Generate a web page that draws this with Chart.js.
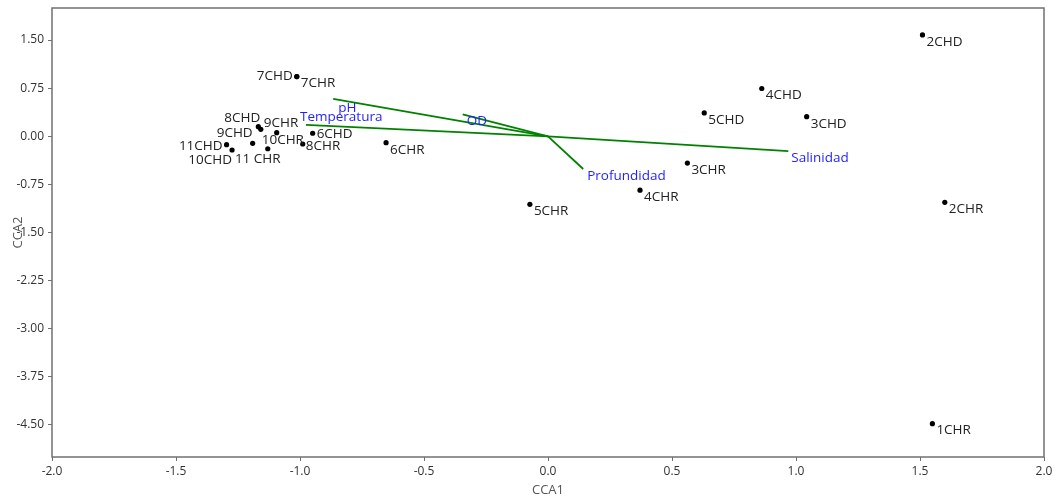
<!DOCTYPE html>
<html>
<head>
<meta charset="utf-8">
<script src="https://cdn.jsdelivr.net/npm/chart.js@4.4.0/dist/chart.umd.min.js"></script>
<style>
  body { margin: 0; background: #fff; }
</style>
</head>
<body>
<canvas id="ccaChart" width="1057" height="500"></canvas>
<script>
// sitios (puntos)
const siteNames = ["2CHD", "2CHR", "1CHR", "4CHD", "5CHD", "3CHD", "3CHR", "4CHR", "5CHR", "6CHR",
  "7CHD", "7CHR", "8CHD", "9CHR", "10CHR", "6CHD", "9CHD", "11CHD", "10CHD", "11 CHR", "8CHR"];
const siteCCA1 = [1.51, 1.60, 1.55, 0.862, 0.630, 1.043, 0.562, 0.371, -0.073, -0.653,
  -1.013, -1.013, -1.168, -1.158, -1.094, -0.949, -1.191, -1.296, -1.274, -1.130, -0.989];
const siteCCA2 = [1.58, -1.03, -4.48, 0.745, 0.364, 0.306, -0.417, -0.84, -1.06, -0.10,
  0.931, 0.931, 0.15, 0.109, 0.056, 0.047, -0.11, -0.131, -0.214, -0.194, -0.12];

// variables ambientales (vectores)
const varNames = ["Salinidad", "Profundidad", "OD", "pH", "Temperatura"];
const varCCA1 = [0.969, 0.142, -0.344, -0.866, -0.976];
const varCCA2 = [-0.23, -0.51, 0.34, 0.583, 0.177];

// marcas de los ejes
const yTicks = [1.5, 0.75, 0, -0.75, -1.5, -2.25, -3, -3.75, -4.5];

// colocación de etiquetas (desplazamiento en px)
const labelPlace = {
  "7CHD": { dx: -4, dy: 0, align: "right" },
  "8CHD": { dx: 2, dy: -9, align: "right" },
  "9CHR": { dx: 3, dy: -6 },
  "9CHD": { dx: 0, dy: -10, align: "right" },
  "10CHR": { dx: -15, dy: 7 },
  "11CHD": { dx: -4, dy: 1, align: "right" },
  "10CHD": { dx: 0, dy: 10, align: "right" },
  "11 CHR": { dx: -10, dy: 10, align: "center" },
  "8CHR": { dx: 3, dy: 2 },
  "6CHD": { dx: 4, dy: 1 },
  "Salinidad": { dx: 3, dy: 7 },
  "Profundidad": { dx: 4, dy: 7 },
  "OD": { dx: 4, dy: 7 },
  "pH": { dx: 5, dy: 9 },
  "Temperatura": { dx: -6, dy: -8 },
};

const FONT = "'Open Sans', 'Noto Sans', sans-serif";

const datasets = [];
varNames.forEach((n, i) => {
  datasets.push({
    label: n,
    data: [{ x: 0, y: 0 }, { x: varCCA1[i], y: varCCA2[i] }],
    showLine: true,
    borderColor: "rgb(0,130,0)",
    borderWidth: 1.8,
    pointRadius: 0,
  });
});
datasets.push({
  label: "sitios",
  data: siteNames.map((n, i) => ({ x: siteCCA1[i], y: siteCCA2[i] })),
  pointRadius: 2.6,
  pointBackgroundColor: "#000",
  pointBorderWidth: 0,
});

// etiquetas, marco y titulos de ejes
const labelPlugin = {
  id: "labels",
  afterDatasetsDraw(chart) {
    const ctx = chart.ctx;
    const xs = chart.scales.x, ys = chart.scales.y;
    ctx.save();
    ctx.font = "13.5px " + FONT;
    ctx.textBaseline = "middle";
    const put = (name, vx, vy, color) => {
      const p = labelPlace[name] || { dx: 4, dy: 7 };
      ctx.fillStyle = color;
      ctx.textAlign = p.align || "left";
      ctx.fillText(name, xs.getPixelForValue(vx) + p.dx, ys.getPixelForValue(vy) + p.dy);
    };
    siteNames.forEach((n, i) => put(n, siteCCA1[i], siteCCA2[i], "#222"));
    varNames.forEach((n, i) => put(n, varCCA1[i], varCCA2[i], "#1f1fff"));

    const a = chart.chartArea;
    ctx.strokeStyle = "#707070";
    ctx.lineWidth = 1.5;
    ctx.strokeRect(a.left, a.top, a.right - a.left, a.bottom - a.top);

    ctx.fillStyle = "#555";
    ctx.font = "13px " + FONT;
    ctx.textAlign = "center";
    ctx.fillText("CCA1", (a.left + a.right) / 2, 490);
    ctx.translate(18, (a.top + a.bottom) / 2);
    ctx.rotate(-Math.PI / 2);
    ctx.fillText("CCA2", 0, 0);
    ctx.restore();
  },
};

const ccaConfig = {
  type: "scatter",
  data: { datasets: datasets },
  options: {
    responsive: false,
    animation: false,
    layout: { padding: { top: 8, right: 13, left: 0, bottom: 0 } },
    plugins: { legend: { display: false }, tooltip: { enabled: false } },
    scales: {
      x: {
        min: -2, max: 2,
        ticks: {
          stepSize: 0.5, padding: 3, color: "#333",
          font: { size: 12, family: FONT },
          callback: (v) => Number(v).toFixed(1),
        },
        grid: { drawOnChartArea: false, tickLength: 4, color: "#707070", lineWidth: 1 },
        border: { display: false },
        afterFit: (s) => { s.height = 43; s.paddingLeft = 0; s.paddingRight = 0; },
      },
      y: {
        min: -5, max: 2,
        afterBuildTicks: (s) => { s.ticks = yTicks.map((v) => ({ value: v })); },
        ticks: {
          padding: 4, color: "#333",
          font: { size: 12, family: FONT },
          callback: (v) => Number(v).toFixed(2),
        },
        grid: { drawOnChartArea: false, tickLength: 4, color: "#707070", lineWidth: 1 },
        border: { display: false },
        afterFit: (s) => { s.width = 52; s.paddingTop = 0; s.paddingBottom = 0; },
      },
    },
  },
  plugins: [labelPlugin],
};

const ccaChart = new Chart(document.getElementById("ccaChart").getContext("2d"), ccaConfig);
</script>
</body>
</html>
